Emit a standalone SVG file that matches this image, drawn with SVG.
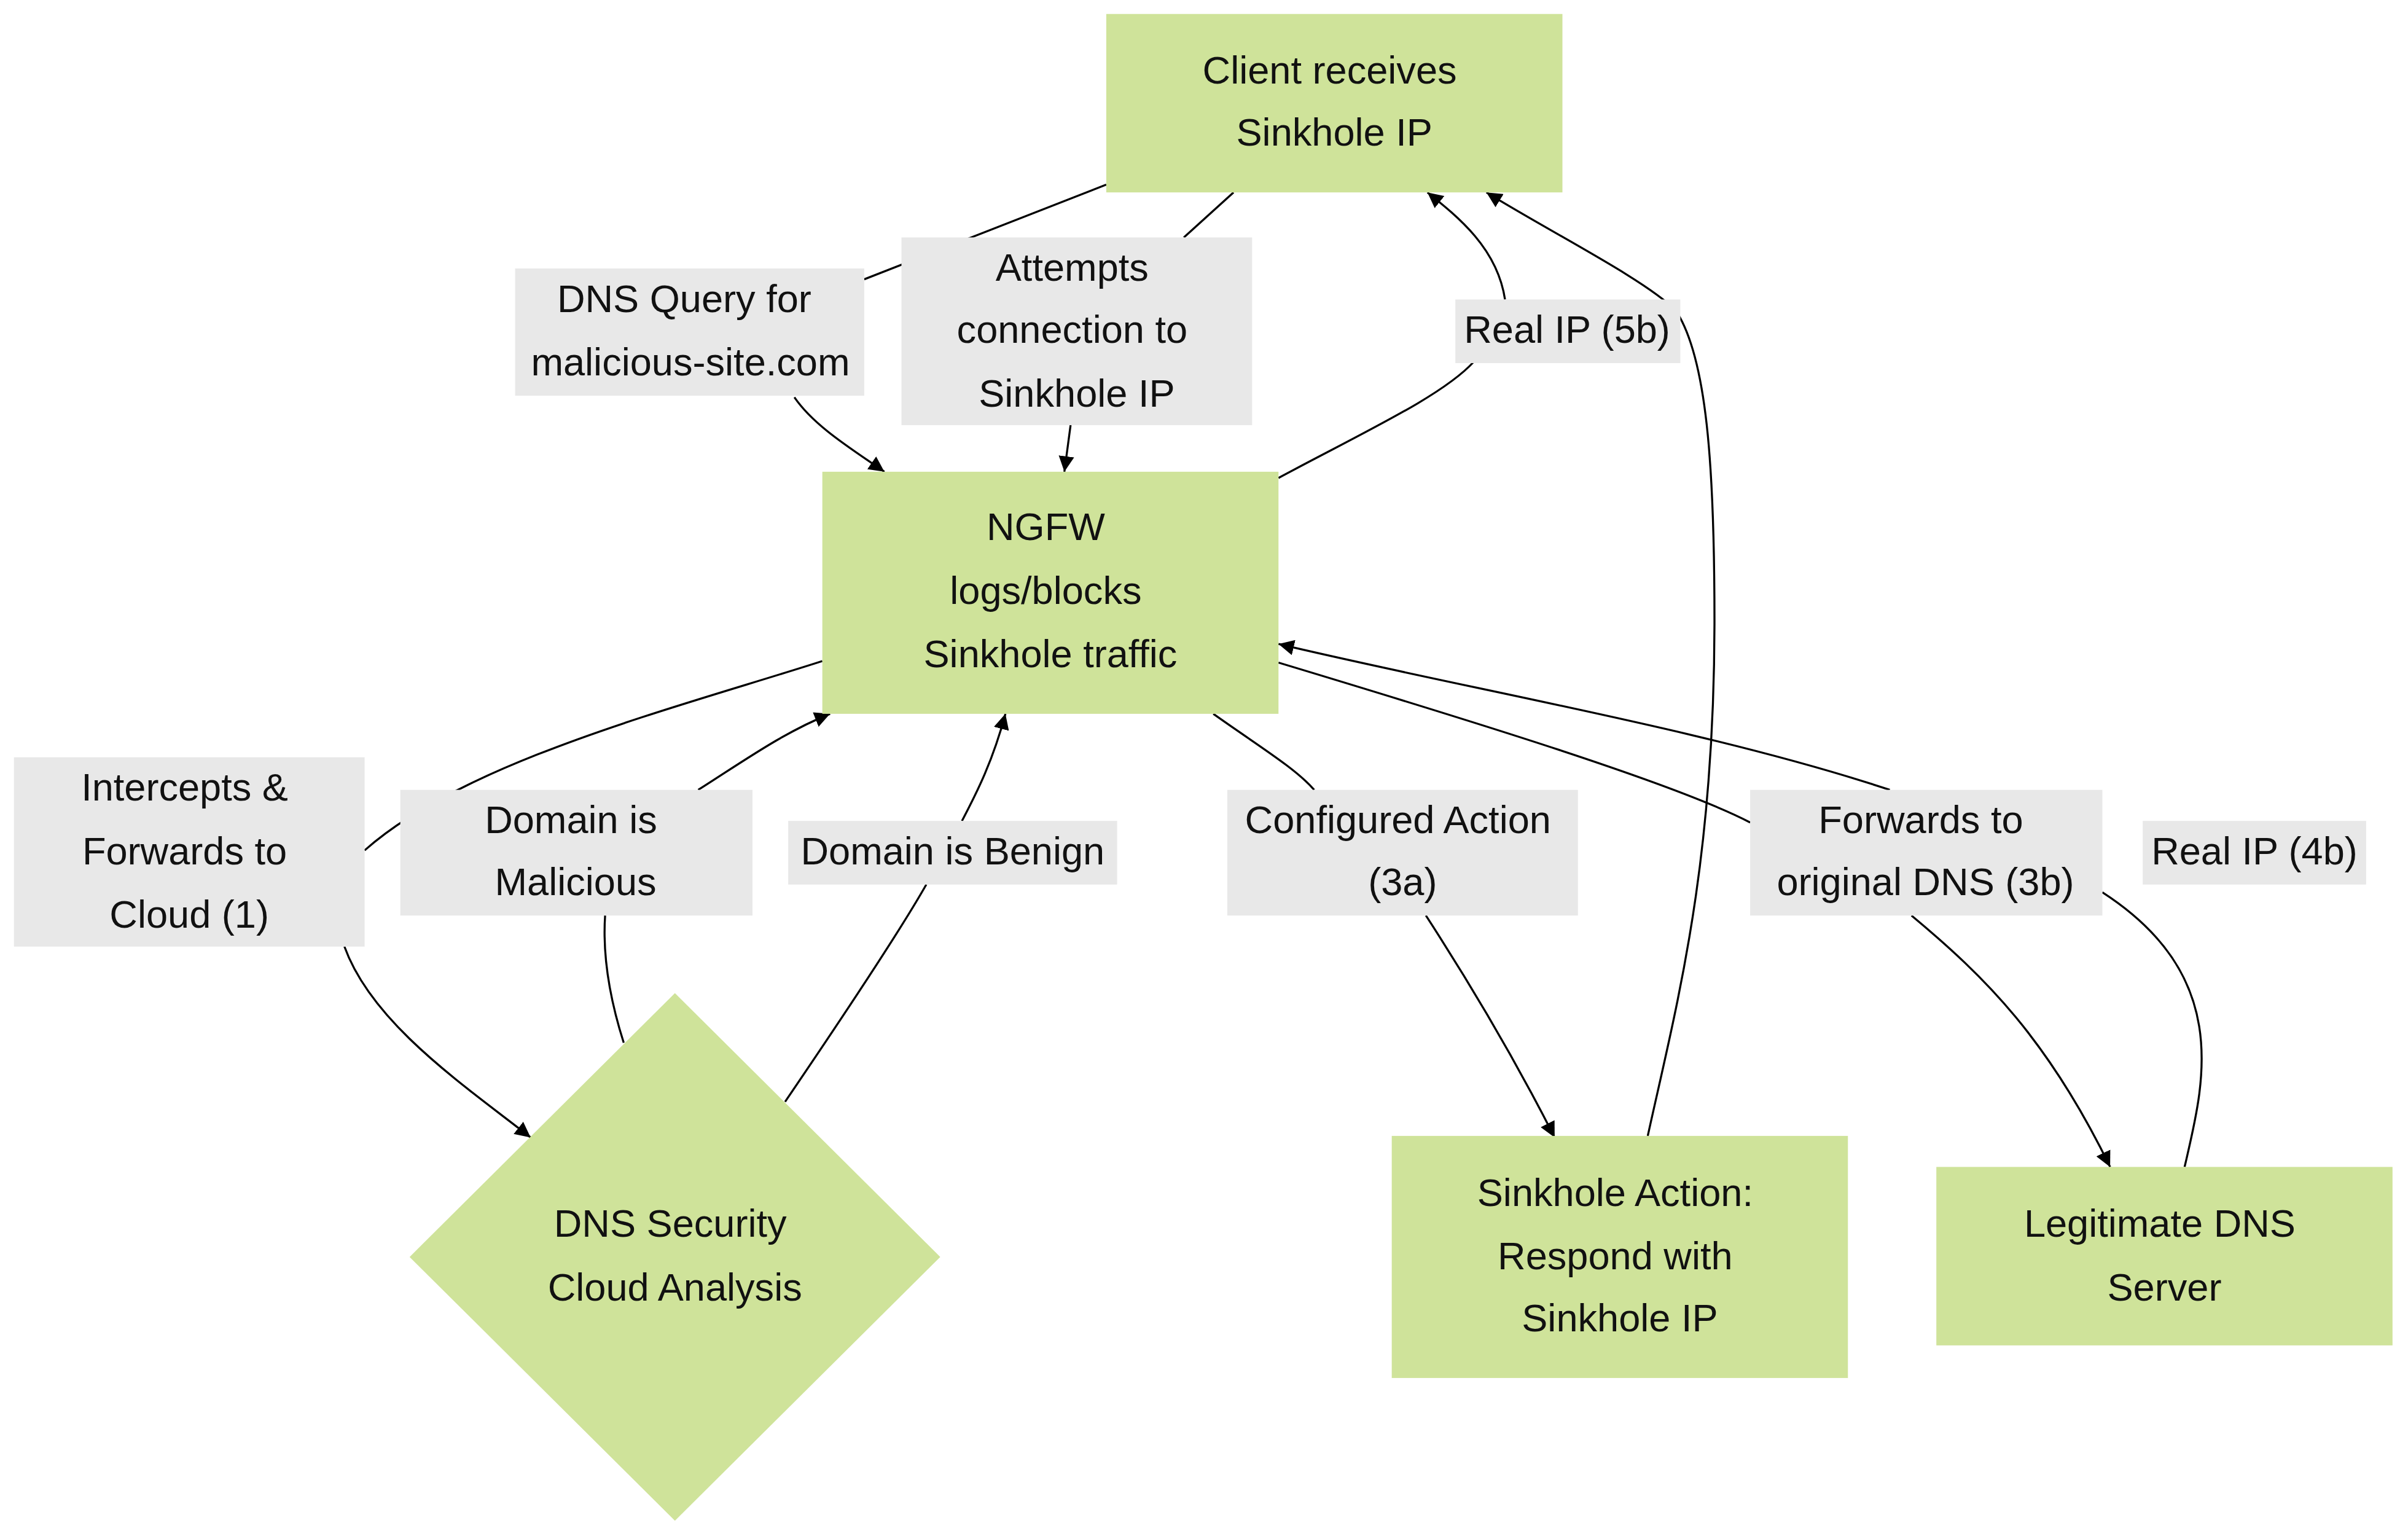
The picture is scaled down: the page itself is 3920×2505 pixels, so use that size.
<svg xmlns="http://www.w3.org/2000/svg" width="3920" height="2505" viewBox="0 0 3920 2505">
<style>
.n{fill:#cfe39a}
.l{fill:#e8e8e8}
.e{fill:none;stroke:#000;stroke-width:1.3}
text{font-family:"Liberation Sans",Arial,sans-serif;font-size:25px;fill:#111;text-anchor:middle}
</style>
<defs>
<marker id="a" viewBox="0 0 10 10" refX="10" refY="5" markerWidth="10" markerHeight="10" markerUnits="userSpaceOnUse" orient="auto"><path d="M0,0 L10,5 L0,10 z" fill="#000"/></marker>
</defs>
<rect width="3920" height="2505" fill="#fff"/>
<g transform="scale(2.5258)">
<g id="connectors">
<path class="e" d="M713,119 L557,180 M512,256 C525,275 550,290 570,304" marker-end="url(#a)"/>
<path class="e" d="M795,124 L763,153 M690,274 L686,304" marker-end="url(#a)"/>
<path class="e" d="M824,308 C880,278 930,255 950,233 M970,193 C965,160 940,140 920,124" marker-end="url(#a)"/>
<path class="e" d="M1062,732 C1080,650 1105,560 1105,400 C1105,300 1100,230 1080,200 C1060,180 1000,150 958,124" marker-end="url(#a)"/>
<path class="e" d="M530,426 C440,455 300,490 235,548 M222,610 C240,660 300,700 342,733" marker-end="url(#a)"/>
<path class="e" d="M402,672 C395,650 388,620 390,590 M450,509 C480,490 505,472 535,460" marker-end="url(#a)"/>
<path class="e" d="M506,710 C540,660 580,600 597,570 M620,529 C630,510 640,490 648,460" marker-end="url(#a)"/>
<path class="e" d="M782,460 C810,480 835,495 847,509 M919,590 C945,630 975,680 1002,733" marker-end="url(#a)"/>
<path class="e" d="M824,427 C950,465 1080,505 1128,530 M1232,590 C1280,630 1320,670 1360,752" marker-end="url(#a)"/>
<path class="e" d="M1408,752 C1420,700 1440,630 1355,575 M1218,509 C1100,470 950,445 824,415" marker-end="url(#a)"/>
</g>
<g id="client"><rect class="n" x="713" y="9" width="294" height="115"/><text x="857" y="54">Client receives</text><text x="860" y="94">Sinkhole IP</text></g>
<g id="ngfw"><rect class="n" x="530" y="304" width="294" height="156"/><text x="674" y="348">NGFW</text><text x="674" y="389">logs/blocks</text><text x="677" y="430">Sinkhole traffic</text></g>
<g id="cloud"><path class="n" d="M435,640 L606,810 L435,980 L264,810 z"/><text x="432" y="797">DNS Security</text><text x="435" y="838">Cloud Analysis</text></g>
<g id="sinkhole"><rect class="n" x="897" y="732" width="294" height="156"/><text x="1041" y="777">Sinkhole Action:</text><text x="1041" y="818">Respond with</text><text x="1044" y="858">Sinkhole IP</text></g>
<g id="legit"><rect class="n" x="1248" y="752" width="294" height="115"/><text x="1392" y="797">Legitimate DNS</text><text x="1395" y="838">Server</text></g>
<g id="labels">
<rect class="l" x="332" y="173" width="225" height="82"/><text x="441" y="201">DNS Query for</text><text x="445" y="242">malicious-site.com</text>
<rect class="l" x="581" y="153" width="226" height="121"/><text x="691" y="181">Attempts</text><text x="691" y="221">connection to</text><text x="694" y="262">Sinkhole IP</text>
<rect class="l" x="938" y="193" width="145" height="41"/><text x="1010" y="221">Real IP (5b)</text>
<rect class="l" x="9" y="488" width="226" height="122"/><text x="119" y="516">Intercepts &amp;</text><text x="119" y="557">Forwards to</text><text x="122" y="598">Cloud (1)</text>
<rect class="l" x="258" y="509" width="227" height="81"/><text x="368" y="537">Domain is</text><text x="371" y="577">Malicious</text>
<rect class="l" x="508" y="529" width="212" height="41"/><text x="614" y="557">Domain is Benign</text>
<rect class="l" x="791" y="509" width="226" height="81"/><text x="901" y="537">Configured Action</text><text x="904" y="577">(3a)</text>
<rect class="l" x="1128" y="509" width="227" height="81"/><text x="1238" y="537">Forwards to</text><text x="1241" y="577">original DNS (3b)</text>
<rect class="l" x="1381" y="529" width="144" height="41"/><text x="1453" y="557">Real IP (4b)</text>
</g>
</g>
</svg>
